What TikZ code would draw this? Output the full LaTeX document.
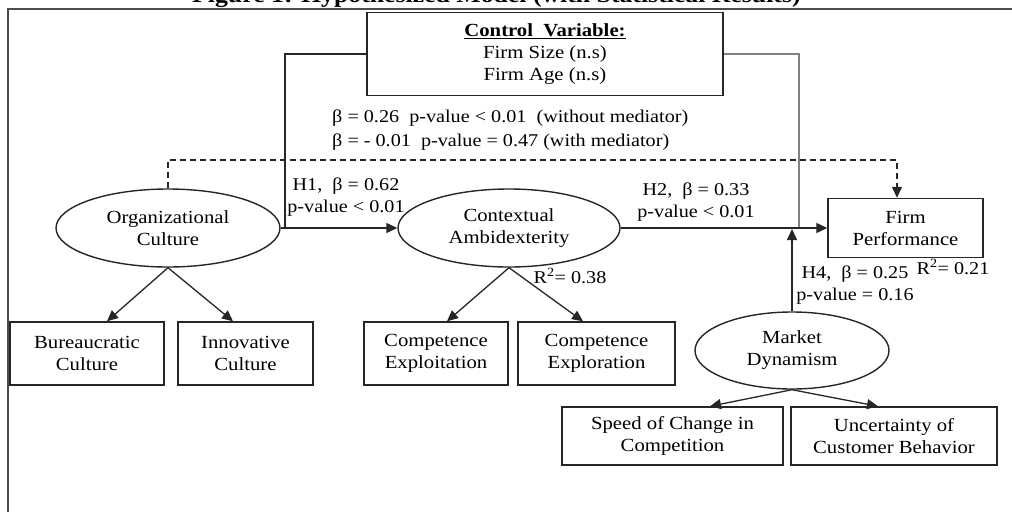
\documentclass[tikz,border=0pt]{standalone}
\usepackage{fontspec}
\setmainfont{Liberation Serif}[FakeStretch=1.12]
\usetikzlibrary{arrows.meta,shapes.geometric}
\tikzset{
  ln/.style={draw=black!85, line width=1.3pt},
  arr/.style={ln, -{Triangle[length=11pt,width=10pt]}},
  dasharr/.style={arr, dash pattern=on 6pt off 4pt},
  boxnode/.style={draw=black!85, line width=1.4pt, align=center, inner sep=0pt,
     font=\fontsize{18.5}{22}\selectfont},
  ellnode/.style={ellipse, draw=black!85, line width=1.4pt, align=center, inner sep=0pt,
     font=\fontsize{18.5}{22}\selectfont},
  lbl/.style={align=center, inner sep=0pt, font=\fontsize{18}{22.5}\selectfont},
}
\begin{document}
\begin{tikzpicture}[x=1pt,y=-1pt]
\useasboundingbox (0,0) rectangle (1012,512);
\clip (0,0) rectangle (1012,512);
\fill[white] (0,0) rectangle (1012,512);
% title (cut at top)
\node[anchor=base west, inner sep=0pt, font=\fontsize{23}{23}\selectfont\bfseries] (title) at (192,2) {Figure 1: Hypothesized Model (with Statistical Results)};
% frame
\draw[ln, draw=black!70] (1012,9) -- (8,9) -- (8,512);
% nodes
\node[boxnode, minimum width=356pt, minimum height=83pt] (ctrl) at (545,54)
  {\textbf{\underline{Control\ \ Variable:}}\\Firm Size (n.s)\\Firm Age (n.s)};
\node[ellnode, minimum width=224pt, minimum height=78pt] (oc) at (168,228) {Organizational\\Culture};
\node[ellnode, minimum width=222pt, minimum height=78pt] (ca) at (509,228) {Contextual\\Ambidexterity};
\node[boxnode, minimum width=155pt, minimum height=59pt] (fp) at (905.5,228) {Firm\\Performance};
\node[ellnode, minimum width=194pt, minimum height=77pt] (md) at (792,350.5) {Market\\Dynamism};
\node[boxnode, minimum width=154pt, minimum height=63pt] (bur) at (87,353.5) {Bureaucratic\\Culture};
\node[boxnode, minimum width=135pt, minimum height=63pt] (inn) at (245.5,353.5) {Innovative\\Culture};
\node[boxnode, minimum width=144pt, minimum height=63pt] (expt) at (436,353.5) {Competence\\Exploitation};
\node[boxnode, minimum width=157pt, minimum height=63pt] (expr) at (596.5,353.5) {Competence\\Exploration};
\node[boxnode, minimum width=221pt, minimum height=58pt] (spd) at (672.5,436) {Speed of Change in\\Competition};
\node[boxnode, minimum width=206pt, minimum height=58pt] (unc) at (894,436) {Uncertainty of\\Customer Behavior};
% join coordinates
\coordinate (j1) at (285,228);
\coordinate (j2) at (799,228);
\coordinate (mod) at (792,229);
\coordinate (dtop) at (897,160);
% control lines
\draw[ln] (ctrl.west) -| (j1);
\draw[ln, draw=black!50] (ctrl.east) -| (j2);
% main paths
\draw[arr] (oc.east) -- (ca.west);
\draw[arr] (ca.east) -- (fp.west);
\draw[dasharr] (oc.north) |- (dtop) -- (dtop |- fp.north);
\draw[arr] (md.north) -- (mod);
% indicators
\draw[arr] (oc.south) -- ([xshift=20pt]bur.north);
\draw[arr] (oc.south) -- ([xshift=-12.5pt]inn.north);
\draw[arr] (ca.south) -- ([xshift=11pt]expt.north);
\draw[arr] (ca.south) -- ([xshift=-13.5pt]expr.north);
\draw[arr] (md.south) -- ([xshift=37.5pt]spd.north);
\draw[arr] (md.south) -- ([xshift=-16pt]unc.north);
% labels
\node[lbl, anchor=west] (b1) at (332,118) {β = 0.26\ \ p-value < 0.01\ \ (without mediator)};
\node[lbl, anchor=west] (b2) at (332,142) {β = - 0.01\ \ p-value = 0.47 (with mediator)};
\node[lbl] (h1) at (346,197) {H1,\ \ β = 0.62\\p-value < 0.01};
\node[lbl] (h2) at (696,202) {H2,\ \ β = 0.33\\p-value < 0.01};
\node[lbl] (h4) at (855,285) {H4,\ \ β = 0.25\\p-value = 0.16};
\node[lbl] (r1) at (570,276) {R\textsuperscript{2}= 0.38};
\node[lbl] (r2) at (953,267) {R\textsuperscript{2}= 0.21};
\end{tikzpicture}
\end{document}
